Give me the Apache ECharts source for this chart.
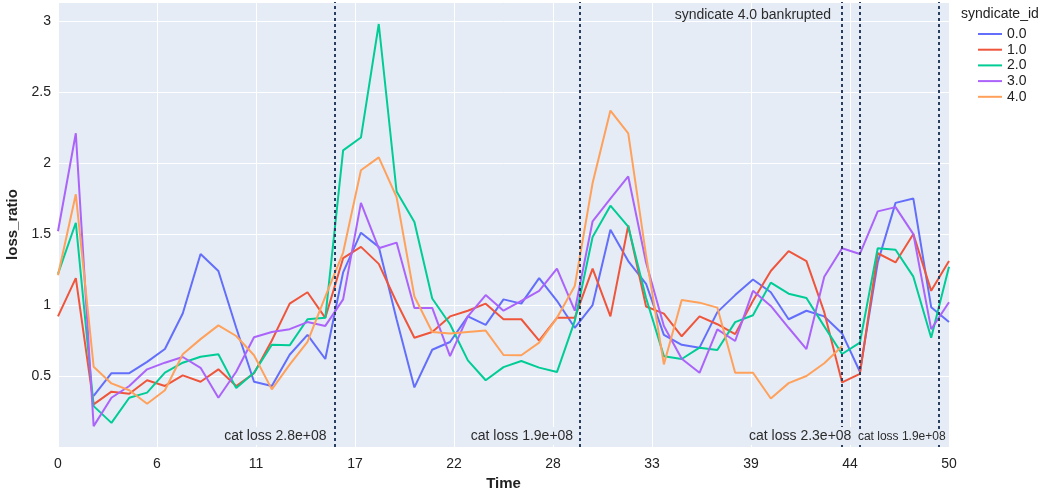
<!DOCTYPE html>
<html><head><meta charset="utf-8">
<script src="https://cdn.jsdelivr.net/npm/echarts@6/dist/echarts.min.js"></script>
<style>html,body{margin:0;padding:0;background:#fff}#c{width:1048px;height:491px}</style>
</head><body><div id="c"></div>
<script>
const time = [0,1,2,3,4,5,6,7,8,9,10,11,12,13,14,15,16,17,18,19,20,21,22,23,24,25,26,27,28,29,30,31,32,33,34,35,36,37,38,39,40,41,42,43,44,45,46,47,48,49,50];
const syndicate0 = [null,null,0.36,0.52,0.52,0.60,0.69,0.94,1.36,1.24,0.84,0.46,0.43,0.65,0.79,0.62,1.23,1.51,1.41,0.90,0.42,0.685,0.74,0.92,0.86,1.04,1.01,1.19,1.03,0.84,1.00,1.53,1.31,1.15,0.79,0.72,0.70,0.95,1.07,1.18,1.09,0.90,0.96,0.92,0.80,0.53,1.30,1.72,1.75,0.985,0.88];
const syndicate1 = [0.92,1.19,0.30,0.39,0.375,0.47,0.43,0.505,0.46,0.547,0.43,0.52,0.75,1.01,1.09,0.91,1.33,1.41,1.29,1.02,0.77,0.81,0.92,0.96,1.01,0.90,0.90,0.75,0.91,0.91,1.257,0.92,1.56,0.99,0.94,0.78,0.92,0.865,0.795,1.03,1.24,1.38,1.31,0.95,0.455,0.515,1.365,1.30,1.50,1.10,1.31];
const syndicate2 = [1.22,1.58,0.288,0.17,0.347,0.383,0.524,0.594,0.636,0.653,0.415,0.523,0.72,0.716,0.90,0.91,2.09,2.18,2.98,1.80,1.585,1.046,0.865,0.61,0.47,0.563,0.606,0.559,0.528,0.888,1.48,1.70,1.553,1.05,0.64,0.62,0.70,0.683,0.88,0.928,1.158,1.08,1.05,0.85,0.655,0.735,1.40,1.39,1.20,0.77,1.27];
const syndicate3 = [1.52,2.21,0.147,0.347,0.43,0.547,0.594,0.634,0.558,0.347,0.53,0.773,0.81,0.83,0.88,0.853,1.04,1.72,1.40,1.44,0.98,0.98,0.64,0.92,1.07,0.96,1.03,1.10,1.257,0.96,1.59,1.75,1.906,1.30,0.853,0.622,0.523,0.829,0.747,1.10,0.994,0.84,0.69,1.20,1.40,1.36,1.66,1.69,1.50,0.83,1.02];
const syndicate4 = [1.21,1.78,0.566,0.448,0.40,0.305,0.40,0.653,0.76,0.857,0.782,0.646,0.406,0.58,0.74,1.06,1.37,1.95,2.04,1.76,1.06,0.81,0.80,0.81,0.82,0.648,0.646,0.735,0.91,1.135,1.86,2.37,2.21,1.35,0.582,1.036,1.017,0.982,0.523,0.523,0.342,0.45,0.50,0.59,0.71];
const seriesNames = ['0.0','1.0','2.0','3.0','4.0'];
const seriesValues = [syndicate0, syndicate1, syndicate2, syndicate3, syndicate4];
const colors = ['#636EFA','#EF553B','#00CC96','#AB63FA','#FFA15A'];
const yTickLabels = ['0.5','1','1.5','2','2.5','3'];
const eventTimes = [15.52, 29.3, 44, 45, 49.42];
const eventTexts = [
  {t:15.52, text:'cat loss 2.8e+08', size:14, align:'right', dx:-7, pos:'bottom'},
  {t:29.3, text:'cat loss 1.9e+08', size:14, align:'right', dx:-6, pos:'bottom'},
  {t:45, text:'cat loss 2.3e+08', size:14, align:'right', dx:-7.5, pos:'bottom'},
  {t:45, text:'cat loss 1.9e+08', size:12, align:'left', dx:-3, pos:'bottom'},
  {t:44, text:'syndicate 4.0 bankrupted', size:14, align:'right', dx:-10, pos:'top'}
];

const FONT = '"Liberation Sans", Arial, Helvetica, sans-serif';
const TXT = '#222';
const chart = echarts.init(document.getElementById('c'), null, {renderer:'canvas'});

const series = seriesValues.map((vals, k) => ({
  name: seriesNames[k],
  type: 'line',
  symbol: 'none',
  showSymbol: false,
  connectNulls: false,
  lineStyle: {width: 2, color: colors[k]},
  itemStyle: {color: colors[k]},
  emphasis: {disabled: true},
  data: vals.map((v, i) => [time[i], v]),
  z: 2
}));
series.push({
  name: 'events', type: 'line', data: [], silent: true, z: 5,
  markLine: {
    silent: true, symbol: ['none','none'], label: {show: false},
    lineStyle: {color: '#2a3f5f', width: 2, type: [3,3]},
    emphasis: {disabled: true},
    data: eventTimes.map(t => ({xAxis: t}))
  }
});

chart.setOption({
  animation: false,
  backgroundColor: '#fff',
  textStyle: {fontFamily: FONT},
  grid: {left: 58, right: 99, top: 2, bottom: 44, show: true, backgroundColor: '#E5ECF6', borderWidth: 0, containLabel: false, outerBoundsMode: 'none'},
  legend: {
    data: seriesNames, orient: 'vertical', left: 972, top: 22,
    itemWidth: 24, itemHeight: 14, itemGap: 1.7,
    itemStyle: {opacity: 0},
    lineStyle: {width: 2},
    textStyle: {fontSize: 14, color: TXT, fontFamily: FONT},
    selectedMode: false
  },
  xAxis: {
    type: 'value', min: 0, max: 50, interval: 50/9,
    name: 'Time', nameLocation: 'middle', nameGap: 28,
    nameTextStyle: {fontSize: 15, fontWeight: 'bold', color: TXT, fontFamily: FONT},
    axisLine: {show: false}, axisTick: {show: false},
    axisLabel: {fontSize: 14, color: TXT, margin: 10, fontFamily: FONT,
      formatter: v => String(Math.round(v))},
    splitLine: {show: true, lineStyle: {color: '#fff', width: 1}}
  },
  yAxis: {
    type: 'value', min: 0, max: 3.135, interval: 0.5,
    name: 'loss_ratio', nameLocation: 'middle', nameGap: 33, nameRotate: 90,
    nameTextStyle: {fontSize: 15, fontWeight: 'bold', color: TXT, fontFamily: FONT},
    axisLine: {show: false}, axisTick: {show: false},
    axisLabel: {fontSize: 14, color: TXT, margin: 7, fontFamily: FONT,
      formatter: v => { const s = String(+v.toFixed(3)); return yTickLabels.indexOf(s) >= 0 ? s : ''; }},
    splitLine: {show: true, lineStyle: {color: '#fff', width: 1}}
  },
  series: series
});

function drawAnnotations() {
  const gr = [];
  const bottom = chart.convertToPixel({gridIndex: 0}, [0, 0])[1];
  eventTexts.forEach(a => {
    const x = chart.convertToPixel({gridIndex: 0}, [a.t, 0])[0] + a.dx;
    const y = a.pos === 'bottom' ? bottom - 2 : 6;
    gr.push({
      type: 'text', x: x, y: y, z: 10, silent: true,
      style: {
        text: a.text, fontSize: a.size, fontFamily: FONT, fill: '#2b2b2b',
        align: a.align, verticalAlign: a.pos === 'bottom' ? 'bottom' : 'top',
        backgroundColor: a.pos === 'bottom' ? '#E5ECF6' : 'transparent',
        padding: [2, 1, 2, 1]
      }
    });
  });
  gr.push({
    type: 'text', x: 961, y: 14, silent: true,
    style: {text: 'syndicate_id', fontSize: 14, fontFamily: FONT, fill: TXT, align: 'left', verticalAlign: 'middle'}
  });
  chart.setOption({graphic: gr});
}
drawAnnotations();
</script>
</body></html>
